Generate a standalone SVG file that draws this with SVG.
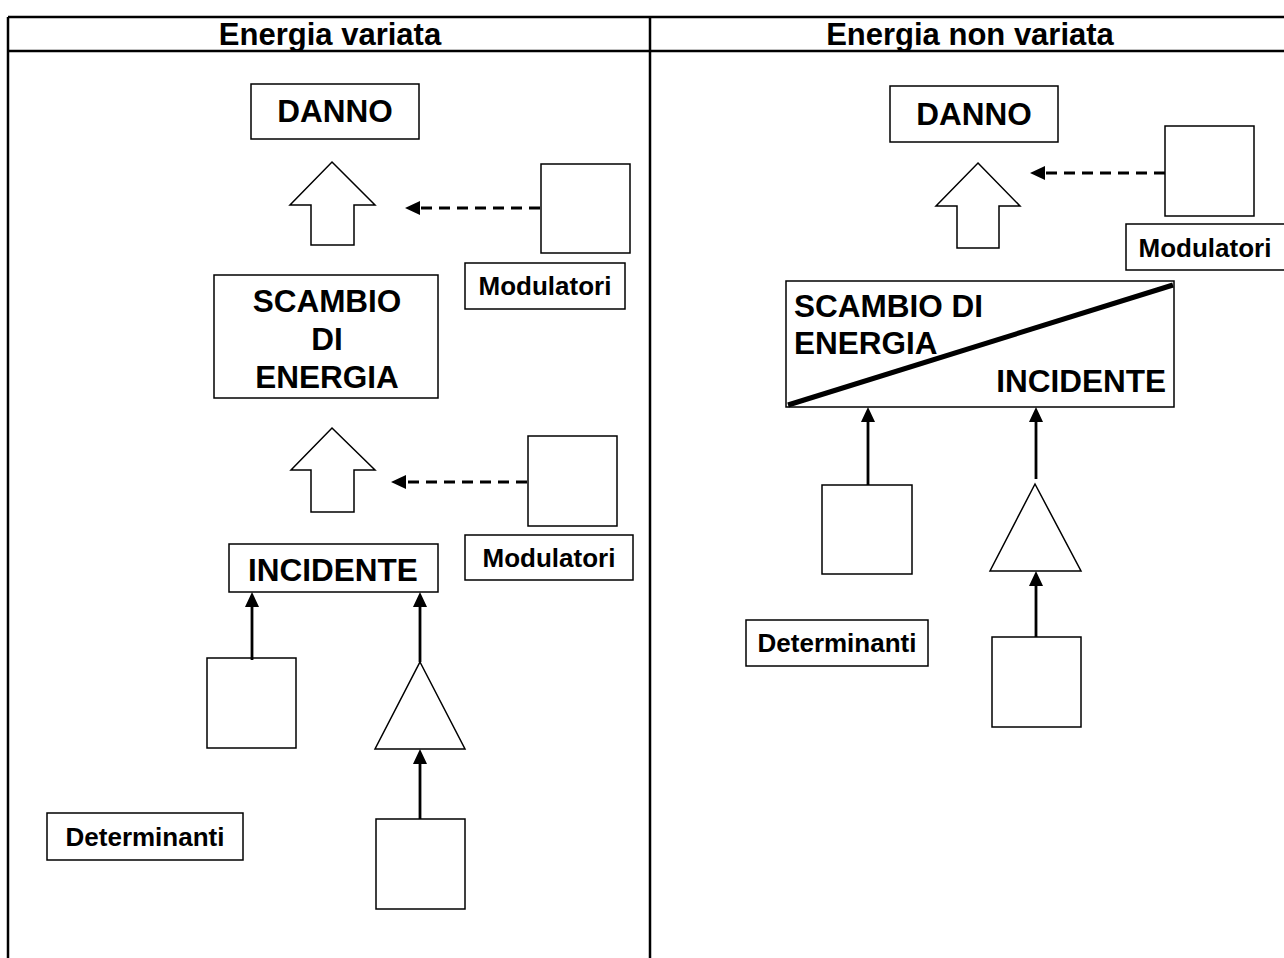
<svg xmlns="http://www.w3.org/2000/svg" width="1284" height="958" viewBox="0 0 1284 958">
<defs>
<style>
.frame{fill:none;stroke:#000;stroke-width:2.5}
.box{fill:#fff;stroke:#000;stroke-width:1.5}
.t{font-family:"Liberation Sans",Arial,sans-serif;font-weight:bold;fill:#000}
.hd{font-size:31px;text-anchor:middle}
.big{font-size:31.5px}
.sm{font-size:26px;text-anchor:middle}
.mid{text-anchor:middle}
.conn{stroke:#000;stroke-width:2.8;fill:none}
.dash{stroke-dasharray:11 7}
</style>
<marker id="ah" viewBox="0 0 15 14" refX="5" refY="7" markerWidth="15" markerHeight="14" orient="auto" markerUnits="userSpaceOnUse">
<path d="M0,0 L15,7 L0,14 Z" fill="#000"/>
</marker>
</defs>
<rect width="1284" height="958" fill="#fff"/>
<g id="table">
<line class="frame" x1="8" y1="17" x2="1290" y2="17"/>
<line class="frame" x1="8" y1="51" x2="1290" y2="51"/>
<line class="frame" x1="8" y1="17" x2="8" y2="960"/>
<line class="frame" x1="650" y1="17" x2="650" y2="960"/>
<text class="t hd" x="330" y="45">Energia variata</text>
<text class="t hd" x="970" y="45">Energia non variata</text>
</g>
<g id="L-danno"><rect class="box" x="251" y="84" width="168" height="55"/><text class="t big mid" x="335" y="122">DANNO</text></g>
<g id="L-arrow1"><polygon class="box" points="332,162 375,205 354,205 354,245 311,245 311,205 290,205"/></g>
<g id="L-mod1-box"><rect class="box" x="541" y="164" width="89" height="89"/></g>
<g id="L-mod1-label"><rect class="box" x="465" y="263" width="160" height="46"/><text class="t sm" x="545" y="295">Modulatori</text></g>
<g id="L-scambio"><rect class="box" x="214" y="275" width="224" height="123"/>
<text class="t big mid" x="327" y="312">SCAMBIO</text>
<text class="t big mid" x="327" y="350">DI</text>
<text class="t big mid" x="327" y="388">ENERGIA</text></g>
<g id="L-arrow2"><polygon class="box" points="332,428 375,470 354,470 354,512 311,512 311,470 291,470"/></g>
<g id="L-mod2-box"><rect class="box" x="528" y="436" width="89" height="90"/></g>
<g id="L-mod2-label"><rect class="box" x="465" y="535" width="168" height="45"/><text class="t sm" x="549" y="567">Modulatori</text></g>
<g id="L-incidente"><rect class="box" x="229" y="544" width="209" height="48"/><text class="t big mid" x="333" y="581">INCIDENTE</text></g>
<g id="L-det-box1"><rect class="box" x="207" y="658" width="89" height="90"/></g>
<g id="L-triangle"><polygon class="box" points="420,662 465,749 375,749"/></g>
<g id="L-det-box2"><rect class="box" x="376" y="819" width="89" height="90"/></g>
<g id="L-det-label"><rect class="box" x="47" y="813" width="196" height="47"/><text class="t sm" x="145" y="846">Determinanti</text></g>

<g id="R-danno"><rect class="box" x="890" y="86" width="168" height="56"/><text class="t big mid" x="974" y="125">DANNO</text></g>
<g id="R-arrow"><polygon class="box" points="978,163 1020,206 999,206 999,248 957,248 957,206 936,206"/></g>
<g id="R-mod-box"><rect class="box" x="1165" y="126" width="89" height="90"/></g>
<g id="R-mod-label"><rect class="box" x="1126" y="224" width="164" height="46"/><text class="t sm" x="1205" y="257">Modulatori</text></g>
<g id="R-scambio-incidente"><rect class="box" x="786" y="281" width="388" height="126"/>
<line x1="788" y1="405" x2="1173" y2="285" stroke="#000" stroke-width="5"/>
<text class="t big" x="794" y="317">SCAMBIO DI</text>
<text class="t big" x="794" y="354">ENERGIA</text>
<text class="t big" x="1166" y="392" text-anchor="end">INCIDENTE</text></g>
<g id="R-det-box1"><rect class="box" x="822" y="485" width="90" height="89"/></g>
<g id="R-triangle"><polygon class="box" points="1035,484 1081,571 990,571"/></g>
<g id="R-det-box2"><rect class="box" x="992" y="637" width="89" height="90"/></g>
<g id="R-det-label"><rect class="box" x="746" y="620" width="182" height="46"/><text class="t sm" x="837" y="652">Determinanti</text></g>

<g id="connectors">
<line class="conn dash" x1="540" y1="208" x2="415" y2="208" marker-end="url(#ah)"/>
<line class="conn dash" x1="527" y1="482" x2="401" y2="482" marker-end="url(#ah)"/>
<line class="conn" x1="252" y1="660" x2="252" y2="602" marker-end="url(#ah)"/>
<line class="conn" x1="420" y1="662" x2="420" y2="602" marker-end="url(#ah)"/>
<line class="conn" x1="420" y1="819" x2="420" y2="759" marker-end="url(#ah)"/>
<line class="conn dash" x1="1165" y1="173" x2="1040" y2="173" marker-end="url(#ah)"/>
<line class="conn" x1="868" y1="485" x2="868" y2="417" marker-end="url(#ah)"/>
<line class="conn" x1="1036" y1="479" x2="1036" y2="417" marker-end="url(#ah)"/>
<line class="conn" x1="1036" y1="637" x2="1036" y2="581" marker-end="url(#ah)"/>
</g>
</svg>
